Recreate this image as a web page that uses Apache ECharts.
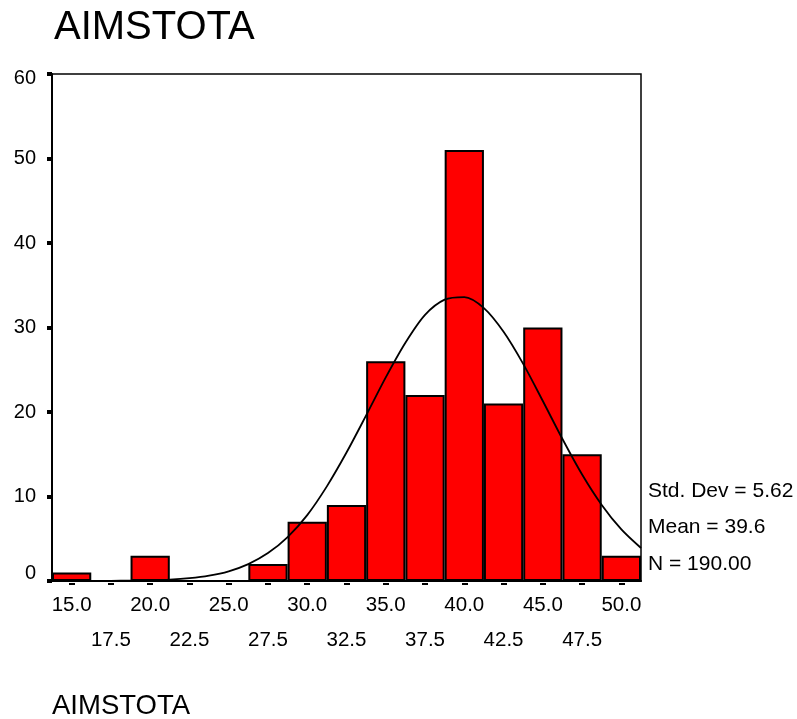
<!DOCTYPE html>
<html>
<head>
<meta charset="utf-8">
<script src="https://cdn.jsdelivr.net/npm/echarts@6/dist/echarts.min.js"></script>
<style>
html,body{margin:0;padding:0;background:#fff;}
#main{width:797px;height:719px;}
</style>
</head>
<body>
<div id="main"></div>
<script>
// Histogram bins (bin centers) and counts
const categories = ['15.0','17.5','20.0','22.5','25.0','27.5','30.0','32.5','35.0','37.5','40.0','42.5','45.0','47.5','50.0'];
const counts = [1, 0, 3, 0, 0, 2, 7, 9, 26, 22, 51, 21, 30, 15, 3];
// Normal curve
const curveX = [13.75,15,16.25,17.5,18.75,20,21.25,22.5,23.75,25,26.25,27.5,28.75,30,31.25,32.5,33.75,35,36.25,37.5,38.75,40,41.25,42.5,43.75,45,46.25,47.5,48.75,50,51.25];
const curveY = [0,0,0.01,0.02,0.04,0.08,0.16,0.33,0.63,1.15,2.0,3.3,5.2,7.8,11.2,15.2,19.6,24.1,28.2,31.5,33.3,33.6,32.3,29.5,25.7,21.3,16.8,12.6,9.0,6.1,3.9];
const yTicks = [0, 10, 20, 30, 40, 50, 60];
const title = 'AIMSTOTA';
const statsLines = ['Std. Dev = 5.62', 'Mean = 39.6', 'N = 190.00'];

const FONT = "'Liberation Sans', Arial, sans-serif";
const chart = echarts.init(document.getElementById('main'), null, {renderer: 'canvas'});
const curveData = curveX.map((x, i) => [x, curveY[i]]);

chart.setOption({
  animation: false,
  backgroundColor: '#fff',
  textStyle: {fontFamily: FONT},
  grid: {left: 52, right: 156, top: 74, bottom: 138, show: true, borderColor: '#000', borderWidth: 1.5, backgroundColor: 'transparent'},
  xAxis: [
    {
      type: 'category', data: categories, position: 'bottom',
      axisLine: {show: true, lineStyle: {color: '#000', width: 2}},
      axisTick: {show: false},
      axisLabel: {
        interval: 0, margin: 14, color: '#000', fontSize: 20.5, fontFamily: FONT,
        formatter: (v, i) => (i % 2 === 0 ? '{a|' + v + '}' : '{b|' + v + '}'),
        rich: {a: {fontSize: 20.5, fontFamily: FONT, color: '#000'}, b: {fontSize: 20.5, fontFamily: FONT, color: '#000', padding: [35, 0, 0, 0]}}
      },
      splitLine: {show: false}
    },
    {type: 'value', min: 13.75, max: 51.25, show: false},
    {
      type: 'category', data: categories, position: 'bottom', offset: 2,
      axisLine: {show: false},
      axisTick: {show: true, alignWithLabel: true, length: 2, lineStyle: {color: '#000', width: 6}},
      axisLabel: {show: false}
    }
  ],
  yAxis: {
    type: 'value', min: 0, max: 60, interval: 10,
    axisLine: {show: true, lineStyle: {color: '#000', width: 2}},
    axisTick: {show: true, length: 5, lineStyle: {color: '#000', width: 4}},
    axisLabel: {
      margin: 16, color: '#000', fontSize: 20, fontFamily: FONT,
      formatter: v => (v === yTicks[0] ? '{u|' + v + '}' : v === yTicks[yTicks.length - 1] ? '{d|' + v + '}' : '{n|' + v + '}'),
      rich: {
        n: {fontSize: 20, fontFamily: FONT, color: '#000'},
        d: {fontSize: 20, fontFamily: FONT, color: '#000', padding: [9, 0, 0, 0]},
        u: {fontSize: 20, fontFamily: FONT, color: '#000', padding: [0, 0, 16, 0]}
      }
    },
    splitLine: {show: false}
  },
  series: [
    {
      type: 'bar', xAxisIndex: 0, data: counts, barWidth: '100%', barGap: 0,
      itemStyle: {color: '#ff0000', borderColor: '#000', borderWidth: 2},
      z: 2
    },
    {
      type: 'line', xAxisIndex: 1, data: curveData, showSymbol: false, smooth: 0.3,
      lineStyle: {color: '#000', width: 1.8}, z: 3, clip: true
    }
  ],
  graphic: [
    {type: 'text', x: 54, y: 27.5, style: {text: title, font: '40px ' + FONT, fill: '#000', verticalAlign: 'middle'}},
    {type: 'text', x: 52, y: 706.7, style: {text: title, font: '27.5px ' + FONT, fill: '#000', verticalAlign: 'middle'}},
    {type: 'text', x: 648, y: 491, style: {text: statsLines[0], font: '21px ' + FONT, fill: '#000', verticalAlign: 'middle'}},
    {type: 'text', x: 648, y: 527.5, style: {text: statsLines[1], font: '21px ' + FONT, fill: '#000', verticalAlign: 'middle'}},
    {type: 'text', x: 648, y: 564.7, style: {text: statsLines[2], font: '21px ' + FONT, fill: '#000', verticalAlign: 'middle'}}
  ]
});
</script>
</body>
</html>
